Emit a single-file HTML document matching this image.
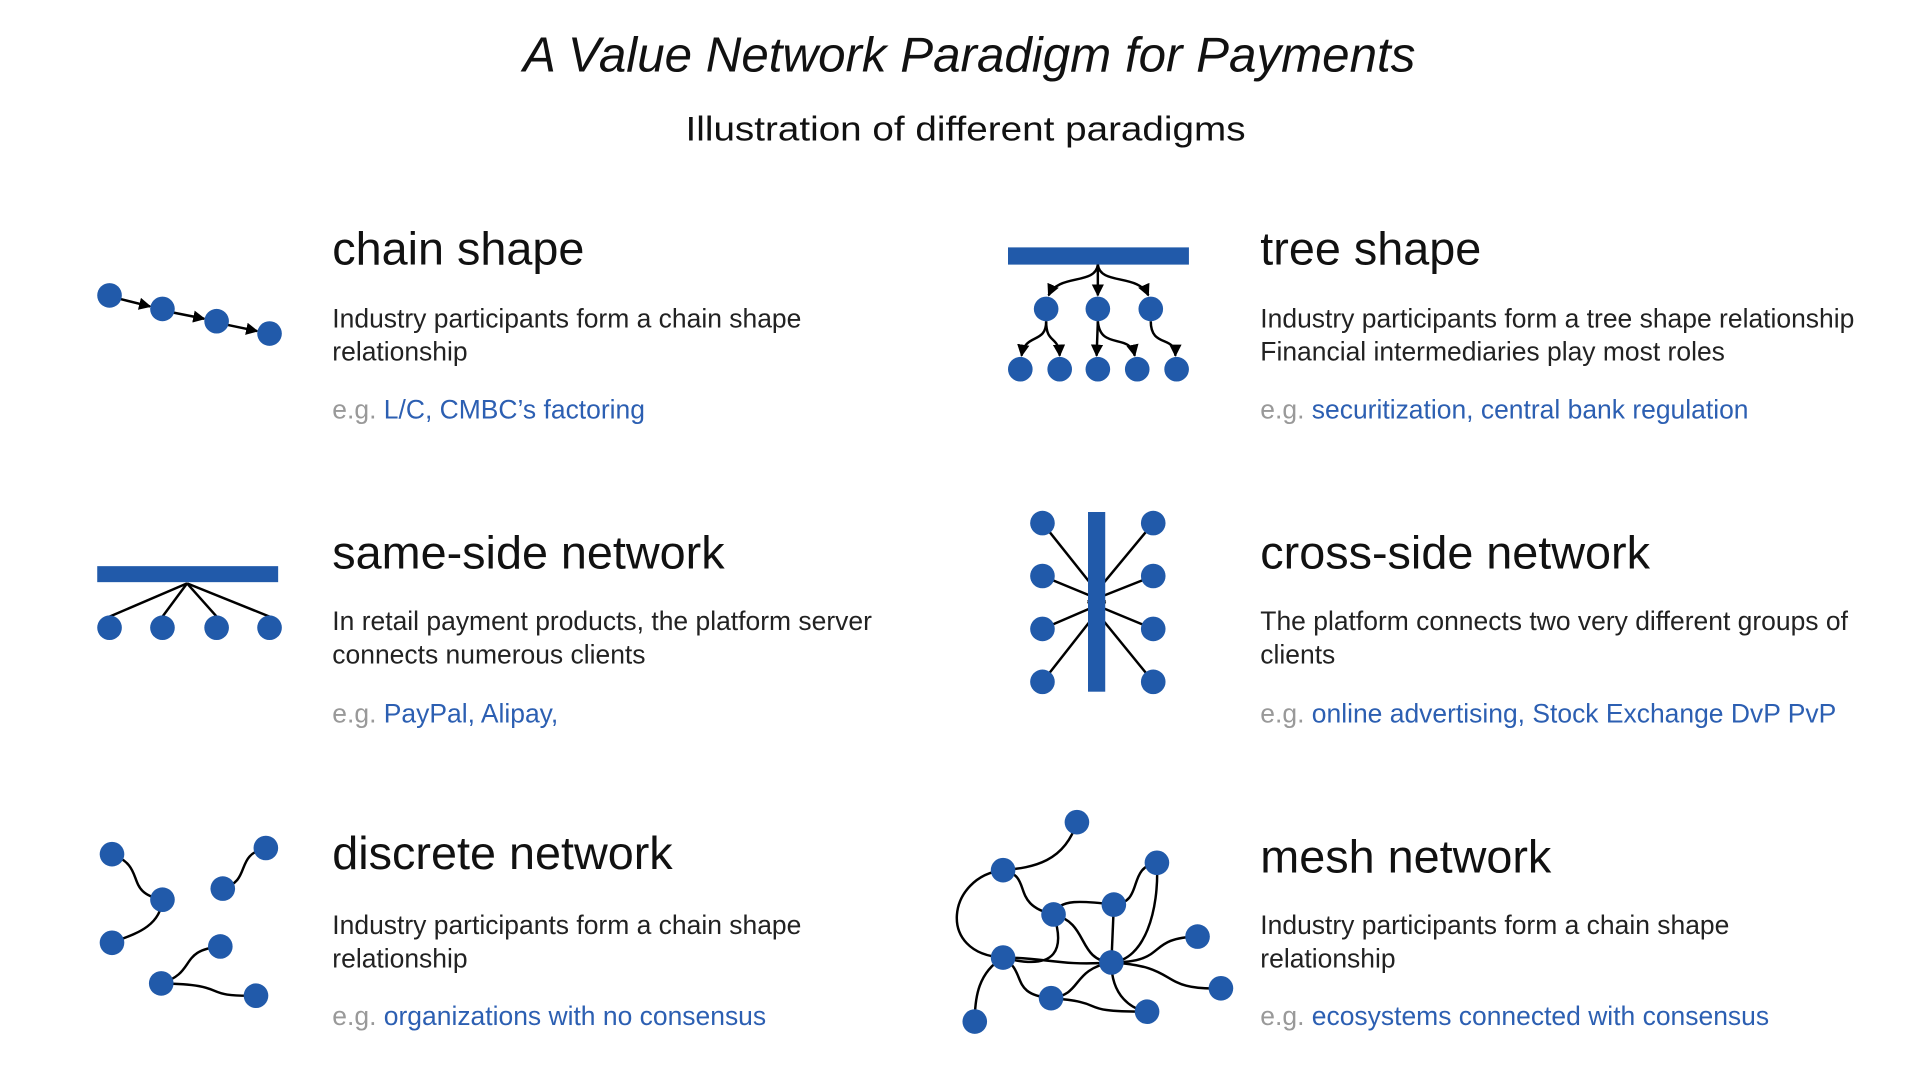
<!DOCTYPE html>
<html><head><meta charset="utf-8"><style>
html,body{margin:0;padding:0;background:#fff;width:1920px;height:1080px;overflow:hidden}
svg{display:block}
text{font-family:"Liberation Sans","Noto Sans CJK SC",sans-serif}
.h{font-size:38px;fill:#111}
.b{font-size:21.5px;fill:#222}
.g{font-size:21.5px;fill:#999}
.l{fill:#2c5fb2}
.n{fill:#215aaa}
.e{fill:none;stroke:#000;stroke-width:2}
</style></head><body>
<svg width="1920" height="1080" viewBox="0 0 1560 877.5" xmlns="http://www.w3.org/2000/svg">
<defs><marker id="ar" viewBox="0 0 10 10" refX="9" refY="5" markerWidth="5" markerHeight="5" orient="auto"><path d="M0,0L10,5L0,10z" fill="#000"/></marker></defs>
<text x="425" y="58" font-size="40" font-style="italic" fill="#111" textLength="725" lengthAdjust="spacingAndGlyphs">A Value Network Paradigm for Payments</text>
<text x="557" y="114" font-size="28" fill="#111" textLength="455" lengthAdjust="spacingAndGlyphs">Illustration of different paradigms</text>

<text class="h" x="270" y="215">chain shape</text>
<text class="b" x="270" y="266">Industry participants form a chain shape</text>
<text class="b" x="270" y="293">relationship</text>
<text class="g" x="270" y="340">e.g. <tspan class="l">L/C, CMBC’s factoring</tspan></text>

<text class="h" x="1024" y="215">tree shape</text>
<text class="b" x="1024" y="266">Industry participants form a tree shape relationship</text>
<text class="b" x="1024" y="293">Financial intermediaries play most roles</text>
<text class="g" x="1024" y="340">e.g. <tspan class="l">securitization, central bank regulation</tspan></text>

<text class="h" x="270" y="462">same-side network</text>
<text class="b" x="270" y="512">In retail payment products, the platform server</text>
<text class="b" x="270" y="539">connects numerous clients</text>
<text class="g" x="270" y="587">e.g. <tspan class="l">PayPal, Alipay,</tspan></text>

<text class="h" x="1024" y="462">cross-side network</text>
<text class="b" x="1024" y="512">The platform connects two very different groups of</text>
<text class="b" x="1024" y="539">clients</text>
<text class="g" x="1024" y="587">e.g. <tspan class="l">online advertising, Stock Exchange DvP PvP</tspan></text>

<text class="h" x="270" y="706">discrete network</text>
<text class="b" x="270" y="759">Industry participants form a chain shape</text>
<text class="b" x="270" y="786">relationship</text>
<text class="g" x="270" y="833">e.g. <tspan class="l">organizations with no consensus</tspan></text>

<text class="h" x="1024" y="709">mesh network</text>
<text class="b" x="1024" y="759">Industry participants form a chain shape</text>
<text class="b" x="1024" y="786">relationship</text>
<text class="g" x="1024" y="833">e.g. <tspan class="l">ecosystems connected with consensus</tspan></text>

<g class="e" marker-end="url(#ar)">
<line x1="98" y1="243" x2="122" y2="249"/>
<line x1="141" y1="254" x2="166" y2="259"/>
<line x1="185" y1="264" x2="209" y2="269"/>
</g>
<circle class="n" cx="89" cy="240" r="10"/><circle class="n" cx="132" cy="251" r="10"/><circle class="n" cx="176" cy="261" r="10"/><circle class="n" cx="219" cy="271" r="10"/>

<rect x="819" y="201" width="147" height="14" class="n"/>
<g class="e" marker-end="url(#ar)">
<path d="M892,215 C890,232 860,222 852,240"/>
<path d="M892,215 L892,240"/>
<path d="M892,215 C894,232 925,222 933,240"/>
<path d="M850,261 C850,280 833,270 830,289"/>
<path d="M850,261 C850,280 860,272 861,289"/>
<path d="M892,261 L891,289"/>
<path d="M892,261 C894,285 918,270 922,289"/>
<path d="M935,261 C935,283 955,272 955,289"/>
</g>
<g class="n"><circle cx="850" cy="251" r="10"/><circle cx="892" cy="251" r="10"/><circle cx="935" cy="251" r="10"/>
<circle cx="829" cy="300" r="10"/><circle cx="861" cy="300" r="10"/><circle cx="892" cy="300" r="10"/><circle cx="924" cy="300" r="10"/><circle cx="956" cy="300" r="10"/></g>

<rect x="79" y="460" width="147" height="13" class="n"/>
<g class="e" stroke-width="1.6"><line x1="152" y1="474" x2="89" y2="501"/><line x1="152" y1="474" x2="132" y2="501"/><line x1="152" y1="474" x2="176" y2="501"/><line x1="152" y1="474" x2="219" y2="501"/></g>
<g class="n"><circle cx="89" cy="510" r="10"/><circle cx="132" cy="510" r="10"/><circle cx="176" cy="510" r="10"/><circle cx="219" cy="510" r="10"/></g>

<g class="e" stroke-width="1.6">
<line x1="847" y1="425" x2="898" y2="489"/><line x1="847" y1="468" x2="898" y2="489"/><line x1="847" y1="511" x2="898" y2="489"/><line x1="847" y1="554" x2="898" y2="489"/>
<line x1="937" y1="425" x2="884" y2="489"/><line x1="937" y1="468" x2="884" y2="489"/><line x1="937" y1="511" x2="884" y2="489"/><line x1="937" y1="554" x2="884" y2="489"/>
</g>
<rect x="884" y="416" width="14" height="146" class="n"/>
<g class="n"><circle cx="847" cy="425" r="10"/><circle cx="847" cy="468" r="10"/><circle cx="847" cy="511" r="10"/><circle cx="847" cy="554" r="10"/>
<circle cx="937" cy="425" r="10"/><circle cx="937" cy="468" r="10"/><circle cx="937" cy="511" r="10"/><circle cx="937" cy="554" r="10"/></g>

<g class="e">
<path d="M91,694 C120,705 100,725 132,731"/>
<path d="M132,731 C130,755 105,760 91,766"/>
<path d="M181,722 C205,715 190,695 216,689"/>
<path d="M131,799 C160,790 145,772 179,769"/>
<path d="M131,799 C190,800 160,810 208,809"/>
</g>
<g class="n"><circle cx="91" cy="694" r="10"/><circle cx="132" cy="731" r="10"/><circle cx="91" cy="766" r="10"/><circle cx="181" cy="722" r="10"/><circle cx="216" cy="689" r="10"/><circle cx="179" cy="769" r="10"/><circle cx="131" cy="799" r="10"/><circle cx="208" cy="809" r="10"/></g>

<g class="e">
<path d="M875,668 C865,700 840,705 815,707"/>
<path d="M815,707 C770,712 760,775 815,778"/>
<path d="M815,707 C840,712 820,735 856,743"/>
<path d="M856,743 C860,730 880,732 905,735"/>
<path d="M905,735 C930,733 915,705 940,701"/>
<path d="M856,743 C865,770 860,790 815,778"/>
<path d="M856,743 C885,750 875,780 903,782"/>
<path d="M905,735 L903,782"/>
<path d="M940,701 C942,740 930,780 903,782"/>
<path d="M815,778 C850,778 860,785 903,782"/>
<path d="M903,782 C950,782 930,762 973,761"/>
<path d="M903,782 C960,785 940,805 992,803"/>
<path d="M815,778 C835,790 820,808 854,811"/>
<path d="M854,811 C880,808 870,788 903,782"/>
<path d="M854,811 C905,815 870,822 932,822"/>
<path d="M903,782 C903,810 920,820 932,822"/>
<path d="M815,778 C795,790 792,810 792,830"/>
</g>
<g class="n"><circle cx="875" cy="668" r="10"/><circle cx="815" cy="707" r="10"/><circle cx="856" cy="743" r="10"/><circle cx="905" cy="735" r="10"/><circle cx="940" cy="701" r="10"/><circle cx="815" cy="778" r="10"/><circle cx="903" cy="782" r="10"/><circle cx="973" cy="761" r="10"/><circle cx="992" cy="803" r="10"/><circle cx="854" cy="811" r="10"/><circle cx="932" cy="822" r="10"/><circle cx="792" cy="830" r="10"/></g>
</svg>
</body></html>
